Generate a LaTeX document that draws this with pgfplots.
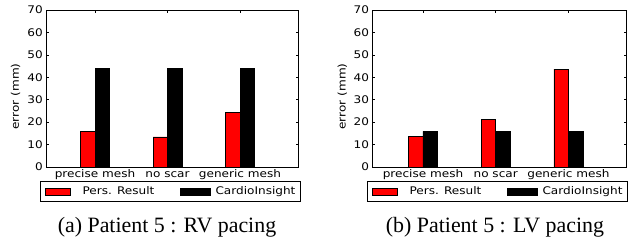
\documentclass[border=0pt]{standalone}
\usepackage{fontspec}
\setmainfont{Liberation Serif}
\newfontfamily\dvs[FakeStretch=1.15]{DejaVu Sans}
\usepackage{pgfplots}
\pgfplotsset{compat=1.18}
\newcommand\af{\dvs\fontsize{10.5}{12.6}\selectfont}

\pgfplotsset{
 mybars/.style={
  scale only axis, height=157pt,
  ymin=0, ymax=70, ytick={0,10,...,70},
  xtick={0,1,2}, xticklabels={precise mesh, no scar, generic mesh},
  tick align=inside, xtick pos=both, ytick pos=both, major tick length=2.5pt,
  tick style={black, line width=0.6pt},
  axis line style={line width=0.8pt},
  /pgf/number format/assume math mode=true,
  ticklabel style={font=\af},
  yticklabel style={anchor=east, inner sep=0pt, xshift=-3pt},
  xticklabel style={anchor=base, inner sep=0pt, yshift=-10.3pt},
  ylabel={error (mm)},
  ylabel style={font=\af, anchor=center},
  legend columns=2,
  legend style={draw=black, line width=0.8pt, anchor=north west,
    inner xsep=5pt, inner ysep=5.5pt, font=\af, nodes={inner sep=0pt},
    column sep=5pt,
    /tikz/every even column/.append style={column sep=25.7pt}},
 },
 redbar/.style={ybar, bar width=0.2, bar shift=-0.1, fill=red, draw=black, line width=0.5pt,
   legend image code/.code={\draw[fill=red,draw=black,line width=0.5pt] (0pt,-3.8pt) rectangle (25pt,3.8pt); \path (31.7pt,0pt);}},
 blackbar/.style={ybar, bar width=0.2, bar shift=0.1, fill=black, draw=black, line width=0.5pt,
   legend image code/.code={\draw[fill=black,draw=black,line width=0.5pt] (0pt,-3.8pt) rectangle (30pt,3.8pt);}},
}

\begin{document}
\begin{tikzpicture}
\useasboundingbox (0pt,0pt) rectangle (628pt,241pt);

\begin{axis}[mybars, at={(46pt,74pt)}, anchor=south west, width=252pt,
  xmin=-0.676, xmax=2.8,
  ylabel style={at={(axis description cs:-0.121,0.449)}},
  legend style={at={(axis description cs:-0.024,-0.089)}}]
\addplot[redbar] coordinates {(0,16) (1,13.4) (2,24.2)};
\addplot[blackbar] coordinates {(0,44.1) (1,44.1) (2,44.1)};
\legend{Pers. Result, CardioInsight}
\end{axis}

\begin{axis}[mybars, at={(372.3pt,74pt)}, anchor=south west, width=254.3pt,
  xmin=-0.697, xmax=2.8,
  ylabel style={at={(axis description cs:-0.118,0.449)}},
  legend style={at={(axis description cs:-0.021,-0.089)}}]
\addplot[redbar] coordinates {(0,13.7) (1,21.1) (2,43.6)};
\addplot[blackbar] coordinates {(0,15.9) (1,15.9) (2,15.9)};
\legend{Pers. Result, CardioInsight}
\end{axis}

\node[font=\fontsize{21.9}{26}\selectfont, anchor=base] at (167pt,8.7pt) {(a) Patient 5 : RV pacing};
\node[font=\fontsize{21.9}{26}\selectfont, anchor=base] at (495pt,8.7pt) {(b) Patient 5 : LV pacing};
\end{tikzpicture}
\end{document}
